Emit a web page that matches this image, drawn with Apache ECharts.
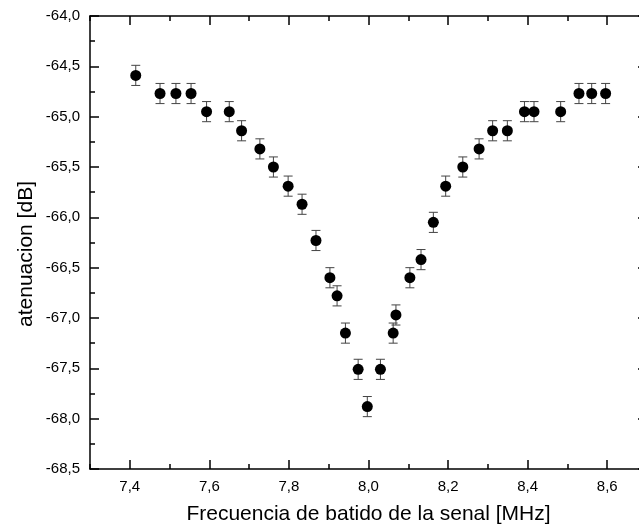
<!DOCTYPE html>
<html>
<head>
<meta charset="utf-8">
<script src="https://cdn.jsdelivr.net/npm/echarts@6/dist/echarts.min.js"></script>
<style>
  html, body { margin: 0; padding: 0; background: #fff; }
  #chart { width: 639px; height: 529px; }
</style>
</head>
<body>
<div id="chart"></div>
<script>
// Beat frequency (MHz) and measured attenuation (dB) with its uncertainty
var frequency = [7.415, 7.476, 7.516, 7.554, 7.593, 7.650, 7.681, 7.727, 7.761, 7.798,
                 7.833, 7.868, 7.903, 7.921, 7.942, 7.974, 7.997, 8.030, 8.062, 8.069,
                 8.104, 8.132, 8.163, 8.194, 8.237, 8.278, 8.312, 8.349, 8.392, 8.416,
                 8.483, 8.529, 8.561, 8.596];
var attenuation = [-64.59, -64.77, -64.77, -64.77, -64.95, -64.95, -65.14, -65.32, -65.50, -65.69,
                   -65.87, -66.23, -66.60, -66.78, -67.15, -67.51, -67.88, -67.51, -67.15, -66.97,
                   -66.60, -66.42, -66.05, -65.69, -65.50, -65.32, -65.14, -65.14, -64.95, -64.95,
                   -64.95, -64.77, -64.77, -64.77];
var uncertainty = [0.1, 0.1, 0.1, 0.1, 0.1, 0.1, 0.1, 0.1, 0.1, 0.1,
                   0.1, 0.1, 0.1, 0.1, 0.1, 0.1, 0.1, 0.1, 0.1, 0.1,
                   0.1, 0.1, 0.1, 0.1, 0.1, 0.1, 0.1, 0.1, 0.1, 0.1,
                   0.1, 0.1, 0.1, 0.1];

var xRange = [7.3, 8.7];
var xMajorRange = [7.4, 8.6];
var yRange = [-68.5, -64.0];

var points = frequency.map(function (f, i) { return [f, attenuation[i]]; });
var bars = frequency.map(function (f, i) { return [f, attenuation[i] - uncertainty[i], attenuation[i] + uncertainty[i]]; });

function comma(v, digits) { return v.toFixed(digits).replace('.', ','); }

var FONT = 'Liberation Sans, Arial, sans-serif';
var lineStyle = { color: '#000', width: 1.5 };

var chart = echarts.init(document.getElementById('chart'), null, { renderer: 'canvas' });

chart.setOption({
  backgroundColor: '#fff',
  animation: false,
  grid: [
    { left: 90, top: 16, width: 557, height: 453, containLabel: false, outerBoundsMode: 'none' },
    // companion grid spanning 7.4..8.6, carries the long (major) x ticks
    { left: 129.8, top: 16, width: 477.4, height: 453, containLabel: false, outerBoundsMode: 'none' }
  ],
  xAxis: [
    {
      type: 'value', gridIndex: 0, position: 'bottom',
      min: xRange[0], max: xRange[1], interval: 0.1,
      splitLine: { show: false },
      axisLine: { show: true, lineStyle: lineStyle },
      axisTick: { show: true, inside: true, length: 5, lineStyle: lineStyle },
      axisLabel: {
        color: '#000', fontFamily: FONT, fontSize: 15, margin: 10,
        formatter: function (v) {
          var t = Math.round(v * 10);
          return (t % 2 === 0 && t > 73 && t < 87) ? comma(v, 1) : '';
        }
      },
      name: 'Frecuencia de batido de la senal [MHz]',
      nameLocation: 'middle', nameGap: 35,
      nameTextStyle: { color: '#000', fontFamily: FONT, fontSize: 21 }
    },
    {
      type: 'value', gridIndex: 0, position: 'top',
      min: xRange[0], max: xRange[1], interval: 0.1,
      splitLine: { show: false },
      axisLine: { show: true, lineStyle: lineStyle },
      axisTick: { show: true, inside: true, length: 5, lineStyle: lineStyle },
      axisLabel: { show: false }
    },
    {
      type: 'value', gridIndex: 1, position: 'bottom',
      min: xMajorRange[0], max: xMajorRange[1], interval: 0.2,
      splitLine: { show: false },
      axisLine: { show: false },
      axisTick: { show: true, inside: true, length: 9, lineStyle: lineStyle },
      axisLabel: { show: false }
    },
    {
      type: 'value', gridIndex: 1, position: 'top',
      min: xMajorRange[0], max: xMajorRange[1], interval: 0.2,
      splitLine: { show: false },
      axisLine: { show: false },
      axisTick: { show: true, inside: true, length: 9, lineStyle: lineStyle },
      axisLabel: { show: false }
    }
  ],
  yAxis: [
    {
      type: 'value', gridIndex: 0, position: 'left',
      min: yRange[0], max: yRange[1], interval: 0.5,
      splitLine: { show: false },
      axisLine: { show: true, lineStyle: lineStyle },
      axisTick: { show: true, inside: true, length: 9, lineStyle: lineStyle },
      minorTick: { show: true, splitNumber: 2, length: 5, lineStyle: lineStyle },
      axisLabel: {
        color: '#000', fontFamily: FONT, fontSize: 15, margin: 10,
        formatter: function (v) { return comma(v, 1); }
      }
    },
    {
      type: 'value', gridIndex: 0, position: 'right',
      min: yRange[0], max: yRange[1], interval: 0.5,
      splitLine: { show: false },
      axisLine: { show: true, lineStyle: lineStyle },
      axisTick: { show: true, inside: true, length: 9, lineStyle: lineStyle },
      minorTick: { show: true, splitNumber: 2, length: 5, lineStyle: lineStyle },
      axisLabel: { show: false }
    },
    {
      type: 'value', gridIndex: 1, show: false,
      min: yRange[0], max: yRange[1]
    }
  ],
  graphic: [
    {
      type: 'text',
      x: 26, y: 254,
      rotation: Math.PI / 2,
      style: {
        text: 'atenuacion [dB]',
        fill: '#000',
        font: '21px ' + FONT,
        textAlign: 'center',
        textVerticalAlign: 'middle'
      }
    }
  ],
  series: [
    {
      type: 'custom',
      xAxisIndex: 0, yAxisIndex: 0,
      data: bars,
      z: 2,
      renderItem: function (params, api) {
        var x = api.value(0);
        var lo = api.coord([x, api.value(1)]);
        var hi = api.coord([x, api.value(2)]);
        var cap = 4.5;
        var style = { stroke: '#444', lineWidth: 1 };
        return {
          type: 'group',
          children: [
            { type: 'line', shape: { x1: lo[0], y1: lo[1], x2: hi[0], y2: hi[1] }, style: style },
            { type: 'line', shape: { x1: lo[0] - cap, y1: lo[1], x2: lo[0] + cap, y2: lo[1] }, style: style },
            { type: 'line', shape: { x1: hi[0] - cap, y1: hi[1], x2: hi[0] + cap, y2: hi[1] }, style: style }
          ]
        };
      }
    },
    {
      type: 'scatter',
      xAxisIndex: 0, yAxisIndex: 0,
      data: points,
      symbol: 'circle',
      symbolSize: 11,
      z: 3,
      itemStyle: { color: '#000', opacity: 1 }
    }
  ]
});
</script>
</body>
</html>
